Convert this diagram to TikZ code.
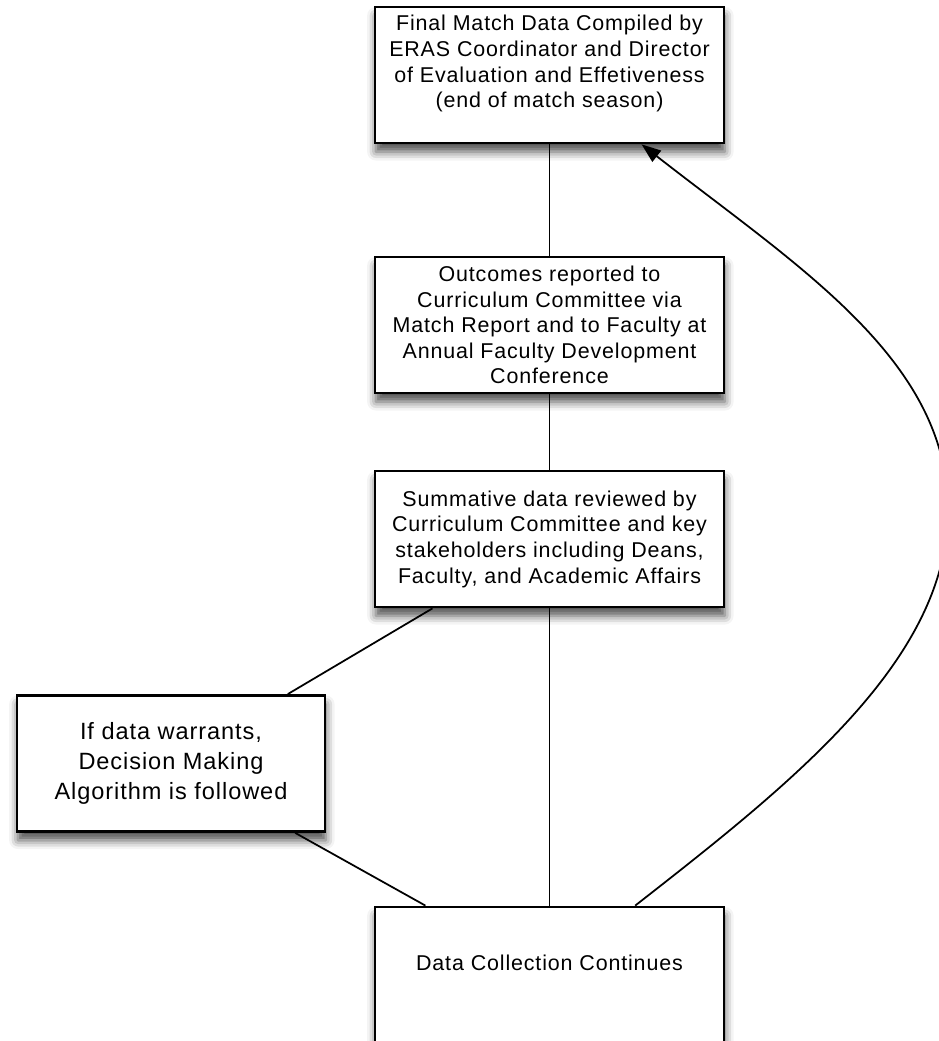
\documentclass[tikz,border=0pt]{standalone}
\usepackage{fontspec}
\setmainfont{Liberation Sans}
\newfontfamily\flowfont[LetterSpace=4]{Liberation Sans}
\usetikzlibrary{arrows.meta,shadows.blur}
\tikzset{
  stepbox/.style={draw=black, line width=1.6pt, fill=white, align=center,
    minimum width=6.98cm, minimum height=2.72cm, inner sep=0pt,
    font=\flowfont\fontsize{12.2}{14.6}\selectfont,
    blur shadow={shadow xshift=0.5pt, shadow yshift=-5pt, shadow blur radius=5pt, shadow opacity=70}},
  decidebox/.style={stepbox, minimum width=6.16cm, font=\flowfont\fontsize{13.4}{17.1}\selectfont},
  link/.style={draw=black, line width=1pt},
  feedback/.style={link, -{Triangle[length=11pt,width=8pt]}},
}

\begin{document}
\begin{tikzpicture}[x=0.02cm,y=0.02cm]
\useasboundingbox (0,0) rectangle (939,1041);
\node[stepbox, text depth=15.4pt] (final) at (549.5,966) {Final Match Data Compiled by\\ERAS Coordinator and Director\\of Evaluation and Effetiveness\\(end of match season)};
\node[stepbox] (outcomes) at (549.5,716) {Outcomes reported to\\Curriculum Committee via\\Match Report and to Faculty at\\Annual Faculty Development\\Conference};
\node[stepbox] (summative) at (549.5,502) {Summative data reviewed by\\Curriculum Committee and key\\stakeholders including Deans,\\Faculty, and Academic Affairs};
\node[decidebox] (decide) at (171,277.5) {If data warrants,\\Decision Making\\Algorithm is followed};
\node[stepbox, text depth=13.7pt] (collect) at (549.5,66) {Data Collection Continues};
\coordinate (turn) at (948,531);
\draw[link] (final) -- (outcomes);
\draw[link] (outcomes) -- (summative);
\draw[link] (summative) -- (collect);
\draw[link] (summative) -- (decide);
\draw[link] (decide) -- (collect);
\draw[feedback] (collect.39.5) .. controls +(38:200) and +(-90:150) .. (turn)
  .. controls +(90:150) and +(-38:200) .. (final.-37);
\end{tikzpicture}
\end{document}
